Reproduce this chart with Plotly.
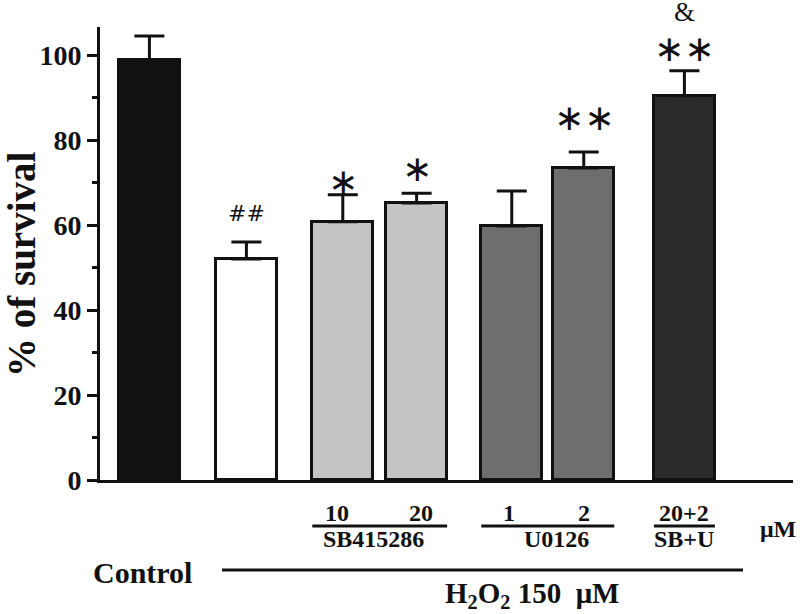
import plotly.graph_objects as go

# ---- data ----
groups = ["Control", "H2O2", "SB 10", "SB 20", "U 1", "U 2", "SB+U"]
survival = [98.8, 52.0, 60.8, 65.2, 59.8, 73.4, 90.4]
survival_err = [5.7, 4.0, 6.3, 2.3, 8.2, 3.8, 5.9]
significance = ["", "##", "*", "*", "", "**", "**"]
extra_mark = ["", "", "", "", "", "", "&"]
dose_labels = ["", "", "10", "20", "1", "2", "20+2"]
y_ticks = [0, 20, 40, 60, 80, 100]

# ---- layout helpers ----
x_pos = [0.81, 2.40, 3.98, 5.19, 6.75, 7.93, 9.58]
bar_w = 1.0
x_range = [0, 11.36]
y_range = [0, 106.6]
colors = ["#111111", "#ffffff", "#c4c4c4", "#c4c4c4", "#6e6e6e", "#6e6e6e", "#2b2b2b"]
serif = "Liberation Serif"
ink = "#111111"

def px(x):
    return (x - x_range[0]) / (x_range[1] - x_range[0])

def py(p):
    # pixel row -> paper fraction; plot spans rows 27..480
    return (480 - p) / 453.0

fig = go.Figure()
fig.add_trace(go.Bar(
    x=x_pos, y=survival, width=bar_w,
    marker=dict(color=colors, line=dict(color=ink, width=3)),
    error_y=dict(type="data", array=survival_err, arrayminus=[0] * len(survival),
                 symmetric=False, color=ink, thickness=3, width=15),
    showlegend=False, hoverinfo="skip",
))

annotations = []
C = dict(xanchor="center", yanchor="middle", showarrow=False, borderpad=0)
star_off = {2: 3.1, 3: 5.9, 5: 8.2, 6: 5.2}
for i, (s, e) in enumerate(zip(significance, extra_mark)):
    top = survival[i] + survival_err[i]
    if s == "##":
        annotations.append(dict(x=x_pos[i], y=top + 6.8, xref="x", yref="y", text="##",
                                font=dict(family="DejaVu Sans", size=22, color=ink), **C))
    elif s:
        annotations.append(dict(x=x_pos[i], y=top + star_off[i], xref="x", yref="y",
                                text="\u2217" * len(s),
                                font=dict(family="DejaVu Sans", size=36, color=ink), **C))
    if e:
        annotations.append(dict(x=x_pos[i], y=py(12), xref="x", yref="paper", text=e,
                                font=dict(family=serif, size=27, color=ink), **C))

lab_font = dict(family=serif, size=24, color=ink, weight="bold")
dose_nudge = [0, 0, -0.1, 0.08, -0.05, 0.0, 0.0]
for i, d in enumerate(dose_labels):
    if d:
        annotations.append(dict(x=x_pos[i] + dose_nudge[i], y=py(513), xref="x", yref="paper",
                                text=d, font=lab_font, **C))

group_names = [("SB415286", 2, 3, -0.1), ("U0126", 4, 5, 0.15), ("SB+U", 6, 6, 0.0)]
shapes = []
for name, a, b, nudge in group_names:
    x0 = x_pos[a] - bar_w / 2
    x1 = x_pos[b] + bar_w / 2
    shapes.append(dict(type="line", xref="paper", yref="paper", x0=px(x0), x1=px(x1),
                       y0=py(526), y1=py(526), line=dict(color=ink, width=3)))
    annotations.append(dict(x=(x0 + x1) / 2 + nudge, y=py(539), xref="x", yref="paper", text=name,
                            font=lab_font, **C))

annotations.append(dict(x=11.11, y=py(529), xref="x", yref="paper", text="\u03bcM",
                        font=lab_font, **C))

# H2O2 treatment line
shapes.append(dict(type="line", xref="paper", yref="paper",
                   x0=px(x_pos[1] - bar_w / 2 + 0.1), x1=px(x_pos[6] + bar_w / 2 + 0.46),
                   y0=py(570), y1=py(570), line=dict(color=ink, width=3)))
annotations.append(dict(x=0.69, y=py(572), xref="x", yref="paper", text="Control",
                        font=dict(family=serif, size=30, color=ink, weight="bold"), **C))
annotations.append(dict(x=7.08, y=py(595), xref="x", yref="paper",
                        text="H<sub>2</sub>O<sub>2</sub> 150\u00a0 \u03bcM",
                        font=dict(family=serif, size=29, color=ink, weight="bold"), **C))

# y-axis title
annotations.append(dict(x=-79 / 693, y=py(264), xref="paper", yref="paper", text="% of survival",
                        textangle=-90,
                        font=dict(family=serif, size=39, color=ink, weight="bold"), **C))

fig.update_layout(
    width=800, height=614,
    margin=dict(l=100, r=7, t=27, b=134),
    paper_bgcolor="white", plot_bgcolor="white",
    annotations=annotations, shapes=shapes,
    xaxis=dict(range=x_range, showticklabels=False, ticks="", showgrid=False, zeroline=False,
               showline=True, linecolor=ink, linewidth=3, fixedrange=True),
    yaxis=dict(range=y_range, tickvals=y_ticks, ticks="outside", ticklen=10, tickwidth=3,
               tickcolor=ink, showgrid=False, zeroline=False, showline=True, linecolor=ink,
               linewidth=3, tickfont=dict(family=serif, size=28, color=ink, weight="bold"),
               minor=dict(dtick=10, tick0=0, ticks="outside", ticklen=5, tickwidth=3, tickcolor=ink,
                          showgrid=False),
               fixedrange=True),
    bargap=0,
)

fig.write_html("out.html", config={"displayModeBar": False},
               post_script="document.body.style.margin='0';document.body.style.overflow='hidden';")
